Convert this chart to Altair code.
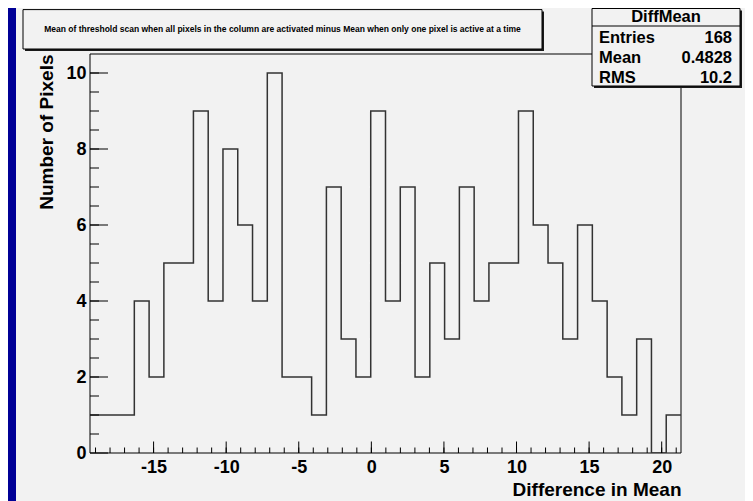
import altair as alt
import pandas as pd

# ---- data ----
counts = [1, 1, 1, 4, 2, 5, 5, 9, 4, 8, 6, 4, 10, 2, 2, 1, 7, 3, 2, 9,
          4, 7, 2, 5, 3, 7, 4, 5, 5, 9, 6, 5, 3, 6, 4, 2, 1, 3, 0, 1]
X_MIN = -19.38
X_MAX = 21.33
Y_MAX = 10.5
x_major = [-15, -10, -5, 0, 5, 10, 15, 20]
x_minor = list(range(-19, 22))
y_major = [0, 2, 4, 6, 8, 10]
y_minor = [i * 0.5 for i in range(1, 21)]
stats_labels = ["Entries", "Mean", "RMS"]
stats_values = ["168", "0.4828", "10.2"]
stats_name = "DiffMean"
title_text = ("Mean of threshold scan when all pixels in the column are activated "
              "minus Mean when only one pixel is active at a time")
x_title = "Difference in Mean"
y_title = "Number of Pixels"

W, H = 591, 399
FONT = "Liberation Sans"
BLUE = "#000096"
GRAY = "#f2f2f2"

nb = len(counts)
bw = (X_MAX - X_MIN) / nb
edges = [X_MIN + i * bw for i in range(nb)] + [X_MAX]
hist_df = pd.DataFrame({"x": edges, "y": counts + [counts[-1]]})

xs = alt.Scale(domain=[X_MIN, X_MAX], nice=False, zero=False)
ys = alt.Scale(domain=[0, Y_MAX], nice=False, zero=False)

x_axis = alt.Axis(
    values=x_major, ticks=False, tickSize=0, domain=False, grid=False,
    labelExpr="datum.value + ''",
    labelFont=FONT, labelFontSize=18, labelFontWeight="bold", labelColor="black",
    labelPadding=5, labelFlush=False, labelOverlap=False,
    title=x_title, titleFont=FONT, titleFontSize=19, titleFontWeight="bold",
    titleColor="black", titleAlign="right", titleAnchor="end",
    titleBaseline="alphabetic", titleX=W, titleY=42)
y_axis = alt.Axis(
    values=y_major, ticks=False, tickSize=0, domain=False, grid=False,
    labelFont=FONT, labelFontSize=18, labelFontWeight="bold", labelColor="black",
    labelPadding=4, labelFlush=False, labelOverlap=False,
    title=y_title, titleFont=FONT, titleFontSize=19, titleFontWeight="bold",
    titleColor="black", titleAngle=270, titleAlign="right", titleAnchor="end",
    titleBaseline="alphabetic", titleX=-38, titleY=0)

one = pd.DataFrame({"a": [0]})

# blue slide strip on the left
strip = alt.Chart(one).mark_rect(color=BLUE).encode(
    x=alt.value(-82), x2=alt.value(-74), y=alt.value(-46), y2=alt.value(H + 48))

frame = alt.Chart(one).mark_rect(fillOpacity=0, stroke="black", strokeWidth=1).encode(
    x=alt.value(0), x2=alt.value(W), y=alt.value(0), y2=alt.value(H))

hist = alt.Chart(hist_df).mark_line(interpolate="step-after", color="#333333",
                                    strokeWidth=1.5, clip=True).encode(
    x=alt.X("x:Q", scale=xs, axis=x_axis),
    y=alt.Y("y:Q", scale=ys, axis=y_axis),
)

def xticks(vals, length):
    return alt.Chart(pd.DataFrame({"x": vals})).mark_rule(color="black", strokeWidth=1).encode(
        x=alt.X("x:Q", scale=xs, axis=x_axis), y=alt.value(H), y2=alt.value(H - length))

def yticks(vals, length):
    return alt.Chart(pd.DataFrame({"y": vals})).mark_rule(color="black", strokeWidth=1).encode(
        y=alt.Y("y:Q", scale=ys, axis=y_axis), x=alt.value(0), x2=alt.value(length))

def box(x0, x1, y0, y1, shadow=2):
    sh = alt.Chart(one).mark_rect(color="#1a1a1a").encode(
        x=alt.value(x0 + shadow), x2=alt.value(x1 + shadow),
        y=alt.value(y0 + shadow), y2=alt.value(y1 + shadow))
    bx = alt.Chart(one).mark_rect(fill=GRAY, stroke="black", strokeWidth=1).encode(
        x=alt.value(x0), x2=alt.value(x1), y=alt.value(y0), y2=alt.value(y1))
    return [sh, bx]

def txt(s, x, y, size, align="center"):
    return alt.Chart(one).mark_text(font=FONT, fontSize=size, fontWeight="bold",
                                    color="black", align=align, baseline="middle").encode(
        x=alt.value(x), y=alt.value(y), text=alt.value(s))

layers = [strip, frame, hist,
          xticks(x_minor, 5.5), xticks(x_major, 11.5),
          yticks(y_minor, 9), yticks(y_major, 18)]

# title pave
layers += box(-67, 452, -44.4, -5)
layers.append(txt(title_text, 192.5, -25.5, 8.5))

# stats box
SX0, SX1, SY0, SY1 = 502, 650, -45.5, 32
layers += box(SX0, SX1, SY0, SY1)
layers.append(alt.Chart(one).mark_rule(color="black", strokeWidth=1).encode(
    x=alt.value(SX0), x2=alt.value(SX1), y=alt.value(-28)))
layers.append(txt(stats_name, (SX0 + SX1) / 2, -37.5, 16.5))
row_y = [-16, 3.5, 24]
for lab, val, yy in zip(stats_labels, stats_values, row_y):
    layers.append(txt(lab, 509, yy, 16.5, "left"))
    layers.append(txt(val, 642, yy, 16.5, "right"))

chart = alt.layer(*layers).properties(
    width=W, height=H,
    padding={"left": 82, "top": 46, "right": 64, "bottom": 48},
    autosize=alt.AutoSizeParams(type="none"),
    background=GRAY,
).configure_view(strokeWidth=0)

chart.save("out.html", embed_options={"renderer": "svg", "actions": False})
